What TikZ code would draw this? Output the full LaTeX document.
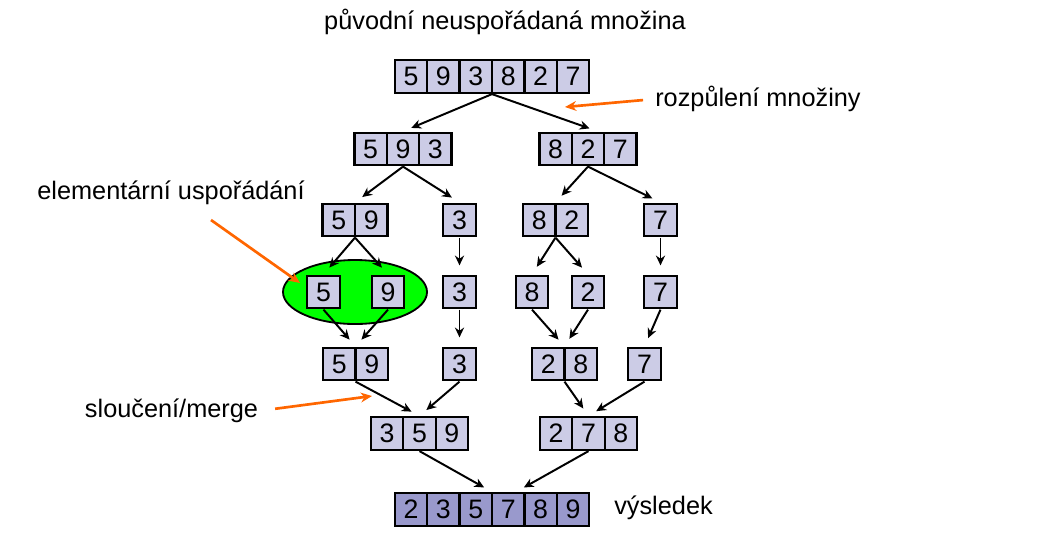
\documentclass[tikz,border=0pt]{standalone}
\usepackage{fontspec}
\setmainfont{Liberation Sans}
\usetikzlibrary{
  arrows.meta,
  fit,
  shapes.geometric
}
\definecolor{cellfill}{RGB}{204,204,230}
\definecolor{cellfilldark}{RGB}{153,153,204}
\definecolor{hintorange}{RGB}{255,102,0}

\begin{document}
\begin{tikzpicture}[
  cell/.style={draw, line width=1.6pt, minimum width=0.81cm, minimum height=0.81cm, inner sep=0pt, font=\fontsize{19}{22}\selectfont},
  link/.style={-{Stealth[length=7pt, width=6.5pt]}, line width=1.4pt, shorten >=0.225cm},
  note/.style={font=\fontsize{18}{21}\selectfont, inner sep=0pt},
  hint/.style={-{Stealth[length=8pt, width=7pt]}, draw=hintorange, line width=1.9pt},
]
\useasboundingbox (0,0) rectangle (26.5,-13.7);

% --- Labels ---
\node[note] (title) at (12.625,-0.55) {původní neuspořádaná množina};
\node[note, anchor=west] (rozpul) at (16.375,-2.475) {rozpůlení množiny};
\node[note] (elem) at (4.275,-4.825) {elementární uspořádání};
\node[note] (merge) at (4.2875,-10.275) {sloučení/merge};
\node[note, anchor=west] (vysl) at (15.35,-12.7) {výsledek};

% --- Sorted pair highlight ---
\node[ellipse, draw, fill=green, line width=1.3pt, minimum width=3.6cm, minimum height=1.6cm] (pair) at (8.875,-7.3) {};

% --- Arrays: name / first cell x / y / cells / fill / values ---
\foreach \n/\x/\y/\k/\c/\v in {
  full/10.275/-1.9125/6/cellfill/{5,9,3,8,2,7},
  a593/9.265/-3.725/3/cellfill/{5,9,3},
  a827/13.89/-3.725/3/cellfill/{8,2,7},
  a59/8.47/-5.5/2/cellfill/{5,9},
  a3/11.4875/-5.5/1/cellfill/{3},
  a82/13.4825/-5.5/2/cellfill/{8,2},
  a7/16.5125/-5.5/1/cellfill/{7},
  s5/8.0875/-7.3/1/cellfill/{5},
  s9/9.7/-7.3/1/cellfill/{9},
  s3/11.4875/-7.3/1/cellfill/{3},
  s8/13.3/-7.3/1/cellfill/{8},
  s2/14.7/-7.3/1/cellfill/{2},
  s7/16.5125/-7.3/1/cellfill/{7},
  b59/8.4825/-9.1/2/cellfill/{5,9},
  b3/11.4875/-9.1/1/cellfill/{3},
  b28/13.7075/-9.1/2/cellfill/{2,8},
  b7/16.1125/-9.1/1/cellfill/{7},
  c359/9.6775/-10.8375/3/cellfill/{3,5,9},
  c278/13.9025/-10.8375/3/cellfill/{2,7,8},
  result/10.275/-12.7375/6/cellfilldark/{2,3,5,7,8,9}}{
  \foreach \t [count=\i] in \v {
    \node[cell, fill=\c] (\n-\i) at ({\x+(\i-1)*0.81}, \y) {\t};
  }
  \node[fit=(\n-1)(\n-\k), inner sep=0pt] (\n) {};
}

% --- Connectors ---
\draw[link] (full.south) -- (a593.north);
\draw[link] (full.south) -- ([xshift=0.25cm]a827.north);
\draw[link] (a593.south) -- (a59.north);
\draw[link] (a593.south) -- (a3.north);
\draw[link] (a827.south) -- (a82.north);
\draw[link] (a827.south) -- (a7.north);
\draw[link] (a59.south) -- (s5.north);
\draw[link] (a59.south) -- (s9.north);
\draw[link] (a3.south) -- (s3.north);
\draw[link] (a82.south) -- (s8.north);
\draw[link] (a82.south) -- (s2.north);
\draw[link] (a7.south) -- (s7.north);
\draw[link] (s5.south) -- (b59.north);
\draw[link] (s9.south) -- (b59.north);
\draw[link] (s3.south) -- (b3.north);
\draw[link] (s8.south) -- (b28.north);
\draw[link] (s2.south) -- (b28.north);
\draw[link] (s7.south) -- (b7.north);
\draw[link] (b59.south) -- (c359.north);
\draw[link] (b3.south) -- (c359.north);
\draw[link] (b28.south) -- (c278.north);
\draw[link] (b7.south) -- (c278.north);
\draw[link] (c359.south) -- (result.north);
\draw[link] (c278.south) -- ([xshift=0.6cm]result.north);

% --- Orange hints ---
\coordinate (halftip) at (14.125,-2.675);
\coordinate (elemtail) at (5.275,-5.5);
\coordinate (pairtip) at (7.5,-7.075);
\coordinate (mergetip) at (9.3,-9.9);
\draw[hint, shorten <=0.3cm] (rozpul.west) -- (halftip);
\draw[hint] (elemtail) -- (pairtip);
\draw[hint, shorten <=0.425cm] (merge.east) -- (mergetip);
\end{tikzpicture}
\end{document}
